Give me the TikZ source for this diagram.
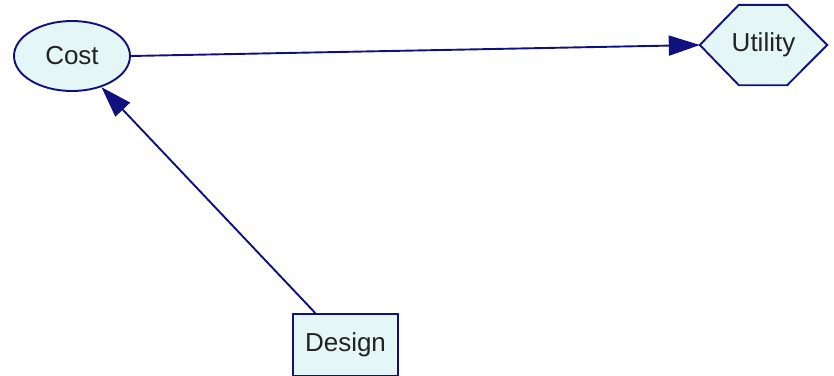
\documentclass[tikz,border=0pt]{standalone}
\usepackage{fontspec}
\setmainfont{Liberation Sans}
\usetikzlibrary{arrows.meta,shapes.geometric,calc,backgrounds}
\definecolor{edgeblue}{HTML}{10107F}
\definecolor{nodefill}{HTML}{E4F6F6}
\definecolor{labelgray}{HTML}{222222}
\begin{document}
\begin{tikzpicture}[x=1pt,y=-1pt,
  every node/.style={font=\fontsize{26}{30}\selectfont, text=labelgray,
    inner sep=0pt},
  boxed/.style={draw=edgeblue, fill=nodefill, line width=1.9pt},
  chance/.style={boxed, ellipse, minimum width=116pt, minimum height=70pt},
  decision/.style={boxed, rectangle, minimum width=105pt, minimum height=62pt},
  value/.style={rectangle, minimum width=127pt, minimum height=80pt},
  link/.style={draw=edgeblue, line width=1.9pt,
    -{Triangle[length=31pt,width=20pt]}}]
  \useasboundingbox (0,0) rectangle (834,375);
  \node[chance]   (cost)   at (72,56)    {Cost};
  \node[value]    (util)   at (763.5,45) {Utility};
  \node[decision] (design) at (345.5,345) {Design};
  % hexagonal outline of the value node, behind its label
  \begin{scope}[on background layer]
    \draw[boxed, line join=miter] (util.west)
      -- ($(util.north west)+(39,0)$) -- ($(util.north east)+(-40,0)$)
      -- (util.east)
      -- ($(util.south east)+(-40,0)$) -- ($(util.south west)+(39,0)$)
      -- cycle;
  \end{scope}
  \draw[link] (cost.east) -- (util.west);
  \draw[link] (design) -- (cost);
\end{tikzpicture}
\end{document}
